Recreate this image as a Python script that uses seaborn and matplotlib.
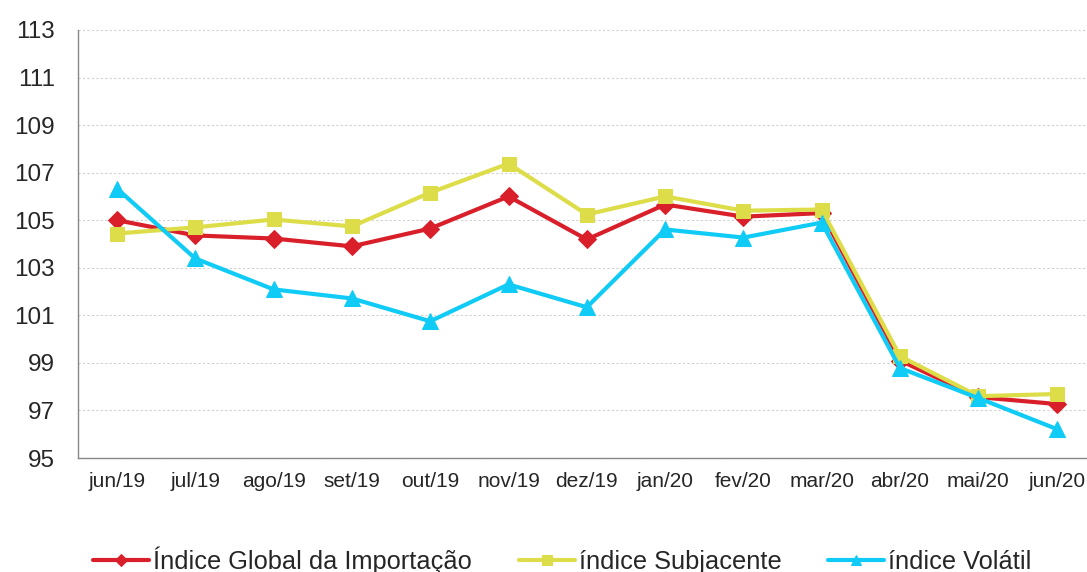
import pandas as pd
import matplotlib
matplotlib.use("Agg")
import matplotlib.pyplot as plt
import seaborn as sns

# Data
months = ["jun/19", "jul/19", "ago/19", "set/19", "out/19", "nov/19", "dez/19",
          "jan/20", "fev/20", "mar/20", "abr/20", "mai/20", "jun/20"]
global_idx = [105.0, 104.36, 104.23, 103.9, 104.65, 106.0, 104.19,
              105.66, 105.15, 105.3, 99.1, 97.56, 97.27]
subjacente = [104.44, 104.7, 105.03, 104.74, 106.16, 107.38, 105.24,
              106.0, 105.4, 105.45, 99.28, 97.6, 97.69]
volatil = [106.33, 103.39, 102.09, 101.71, 100.75, 102.3, 101.34,
           104.61, 104.27, 104.9, 98.78, 97.52, 96.22]
series_names = ["Índice Global da Importação", "índice Subjacente", "índice Volátil"]
y_ticks = [95, 97, 99, 101, 103, 105, 107, 109, 111, 113]

sns.set_style("white")
plt.rcParams["font.family"] = ["Liberation Sans", "DejaVu Sans"]

fig = plt.figure(figsize=(10.87, 5.72), dpi=100)
ax = fig.add_axes([0.0716, 0.1993, 0.9365, 0.7483])

styles = [
    (global_idx, "#D9202A", "D", 9),
    (subjacente, "#DDDD4A", "s", 10.5),
    (volatil, "#0FCBF5", "^", 11),
]
pos = list(range(len(months)))
for (vals, color, marker, ms), name in zip(styles, series_names):
    df = pd.DataFrame({"x": pos, "y": vals})
    sns.lineplot(data=df, x="x", y="y", ax=ax, color=color, marker=marker,
                 markersize=ms, markeredgecolor=color, linewidth=3, label=name)

ax.set_xlim(-0.5, len(months) - 0.5)
ax.set_ylim(95, 113)
ax.set_yticks(y_ticks)
ax.set_yticklabels([str(t) for t in y_ticks], fontsize=17.5)
ax.yaxis.grid(True, linestyle=(0, (2, 2)), color="#D0D0D0", linewidth=0.8)
ax.xaxis.grid(False)

# Category boundaries get tick marks, labels sit at category centres
ax.set_xticks([p - 0.5 for p in pos] + [len(months) - 0.5])
ax.set_xticklabels([])
ax.set_xticks(pos, minor=True)
ax.set_xticklabels(months, minor=True, fontsize=15)
ax.tick_params(axis="x", which="major", length=5, color="#888888", direction="out")
ax.tick_params(axis="x", which="minor", length=0, pad=10)
ax.tick_params(axis="y", length=6.5, color="#888888", direction="out", pad=10)
ax.set_xlabel("")
ax.set_ylabel("")

for side in ["top", "right"]:
    ax.spines[side].set_visible(False)
for side in ["left", "bottom"]:
    ax.spines[side].set_color("#888888")
    ax.spines[side].set_linewidth(1)

ax.legend(loc="center", bbox_to_anchor=(0.476, -0.238), ncol=3, frameon=False,
          fontsize=18.3, handlelength=2.2, handletextpad=0.15, columnspacing=1.85,
          markerscale=0.7)

fig.savefig("out.png", dpi=100)
